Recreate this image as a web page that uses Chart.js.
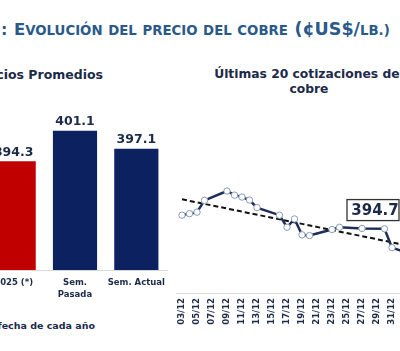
<!DOCTYPE html>
<html>
<head>
<meta charset="utf-8">
<script src="https://cdn.jsdelivr.net/npm/chart.js@4.4.1/dist/chart.umd.min.js"></script>
<style>
  html, body { margin:0; padding:0; background:#fff; width:400px; height:351px; overflow:hidden; position:relative; font-family:"DejaVu Sans", Verdana, sans-serif; }
  .t { position:absolute; white-space:nowrap; font-weight:bold; }
  #mainTitle .bc { font-size:16.5px; }
  #mainTitle .bc2 { font-size:17.5px; }
  #mainTitle .sc { font-size:13.3px; }
  #cv1 { position:absolute; left:-60px; top:60px; }
  #cv2 { position:absolute; left:140px; top:60px; }
</style>
</head>
<body>
<div class="t" id="mainTitle" style="left:1px; top:19px; font-size:16px; word-spacing:1px; color:#2b5a8a;">: <span class="bc">E</span><span class="sc">VOLUCIÓN DEL PRECIO DEL COBRE</span> <span class="bc2">(¢US$/</span><span class="sc">LB.)</span></div>
<div class="t" style="right:297px; top:67px; font-size:12.5px; color:#1c2a4a; text-align:right;">Precios Promedios</div>
<div class="t" style="left:159px; width:300px; top:67px; font-size:12.3px; color:#1c2a4a; text-align:center; line-height:15px;">Últimas 20 cotizaciones del<br>cobre</div>
<div class="t" style="right:305px; top:320px; font-size:9.5px; color:#1c2a4a; text-align:right;">(*) Promedio a la fecha de cada año</div>
<canvas id="cv1" width="240" height="260"></canvas>
<canvas id="cv2" width="300" height="280"></canvas>
<script>
// ---- Data: average prices (¢US$/lb) ----
const barCategories = ["2025 (*)", ["Sem.", "Pasada"], "Sem. Actual"];
const barValues = [394.3, 401.1, 397.1];
const barColors = ["#c00000", "#0b2160", "#0b2160"];

// ---- Data: last 20 copper quotes ----
const quoteDates = ["03/12","04/12","05/12","06/12","09/12","10/12","11/12","12/12","13/12",
                    "16/12","17/12","18/12","19/12","20/12","23/12","24/12","27/12","30/12","31/12","02/01"];
const quoteValues = [404.6, 405.0, 405.4, 408.5, 411.0, 409.9, 409.4, 408.6, 406.6,
                     404.6, 401.4, 403.6, 399.4, 399.2, 400.8, 401.4, 401.1, 401.0, 396.0, 394.7];
const trendDates = ["03/12", "02/01"];
const trendValues = [408.8, 396.6];
const tickLabels = ["03/12","05/12","07/12","09/12","11/12","13/12","15/12","17/12","19/12",
                    "21/12","23/12","25/12","27/12","29/12","31/12","02/01"];
const lastLabel = "394.7";

const FONT = "'DejaVu Sans', Verdana, sans-serif";
const NAVY = "#1c2a4a";

function dayOffset(s) {
  const [d, m] = s.split("/").map(Number);
  return m === 12 ? d - 3 : 28 + d;
}

// ---- Bar chart ----
const barLabelPlugin = {
  id: "barLabels",
  afterDatasetsDraw(chart) {
    const ctx = chart.ctx;
    const meta = chart.getDatasetMeta(0);
    ctx.save();
    ctx.font = "bold 12.5px " + FONT;
    ctx.fillStyle = NAVY;
    ctx.textAlign = "center";
    ctx.textBaseline = "middle";
    meta.data.forEach((bar, i) => {
      ctx.fillText(barValues[i].toFixed(1), bar.x, bar.y - 9);
    });
    ctx.restore();
  }
};

new Chart(document.getElementById("cv1"), {
  type: "bar",
  data: {
    labels: barCategories,
    datasets: [{ data: barValues, backgroundColor: barColors, barPercentage: 0.72, categoryPercentage: 1.0 }]
  },
  options: {
    responsive: false,
    animation: false,
    layout: { padding: { left: 43, right: 13, top: 31, bottom: 10 } },
    plugins: { legend: { display: false }, tooltip: { enabled: false } },
    scales: {
      y: { display: false, min: 370, max: 410 },
      x: {
        grid: { display: false, drawTicks: false },
        border: { display: true, color: "#d9d9d9", width: 1 },
        ticks: { autoSkip: false, color: NAVY, font: { family: FONT, size: 8.5, weight: "bold", lineHeight: 1.4 }, padding: 7, maxRotation: 0, minRotation: 0 },
        afterFit: (s) => { s.height = 40; }
      }
    }
  },
  plugins: [barLabelPlugin]
});

// ---- Line chart ----
const lastBoxPlugin = {
  id: "lastBox",
  afterDatasetsDraw(chart) {
    const ctx = chart.ctx;
    const meta = chart.getDatasetMeta(0);
    const p = meta.data[meta.data.length - 1];
    const x0 = p.x - 60, y0 = p.y - 53, w = 52, h = 21;
    ctx.save();
    ctx.fillStyle = "#ffffff";
    ctx.fillRect(x0, y0, w, h);
    ctx.strokeStyle = "#333333";
    ctx.lineWidth = 1.3;
    ctx.strokeRect(x0, y0, w, h);
    ctx.font = "bold 15px " + FONT;
    ctx.fillStyle = NAVY;
    ctx.textAlign = "center";
    ctx.textBaseline = "middle";
    ctx.fillText(lastLabel, x0 + w / 2 + 2, y0 + h / 2 + 1);
    ctx.restore();
  }
};

new Chart(document.getElementById("cv2"), {
  type: "line",
  data: {
    datasets: [
      {
        data: quoteDates.map((d, i) => ({ x: dayOffset(d), y: quoteValues[i] })),
        borderColor: "#1f2d5a",
        borderWidth: 2.5,
        tension: 0,
        pointRadius: 3.2,
        pointBackgroundColor: "#ffffff",
        pointBorderColor: "#8a9bbb",
        pointBorderWidth: 1,
        order: 1
      },
      {
        data: trendDates.map((d, i) => ({ x: dayOffset(d), y: trendValues[i] })),
        borderColor: "#111111",
        borderWidth: 2,
        borderDash: [5, 3],
        pointRadius: 0,
        tension: 0,
        order: 2
      }
    ]
  },
  options: {
    responsive: false,
    animation: false,
    layout: { padding: { left: 36, right: 25.5, top: 97, bottom: 7 } },
    plugins: { legend: { display: false }, tooltip: { enabled: false } },
    scales: {
      y: { display: false, min: 384, max: 420 },
      x: {
        type: "linear",
        min: -0.8,
        max: 31,
        grid: { display: false, drawTicks: false },
        border: { display: true, color: "#d9d9d9", width: 1 },
        afterBuildTicks: (s) => { s.ticks = tickLabels.map(t => ({ value: dayOffset(t) })); },
        ticks: {
          autoSkip: false,
          minRotation: 90,
          maxRotation: 90,
          padding: 5,
          color: NAVY,
          font: { family: FONT, size: 8.5, weight: "bold" },
          callback: (v) => tickLabels.find(t => dayOffset(t) === v) || ""
        },
        afterFit: (s) => { s.height = 40; }
      }
    }
  },
  plugins: [lastBoxPlugin]
});
</script>
</body>
</html>
